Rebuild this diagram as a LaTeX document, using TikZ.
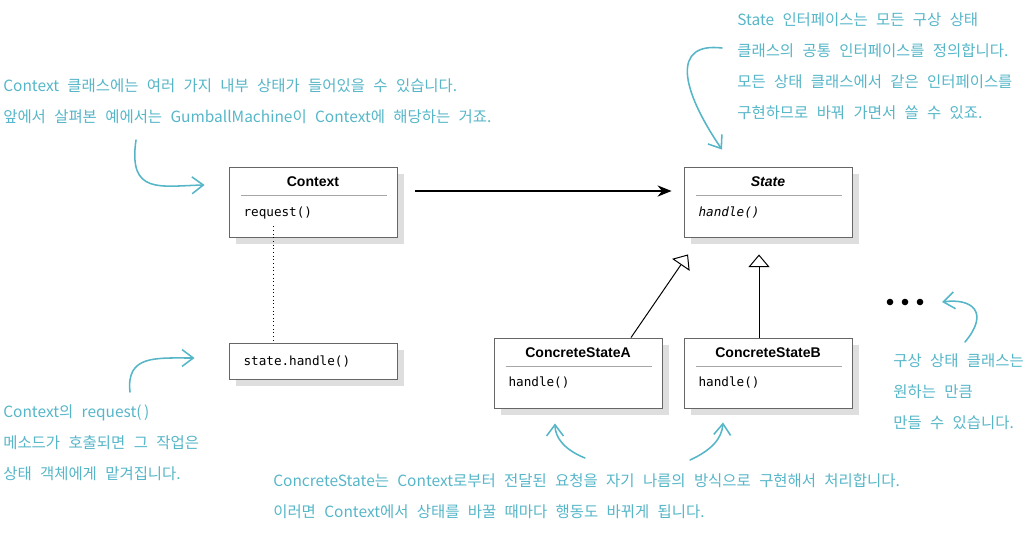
\documentclass[tikz,border=0pt]{standalone}
\usepackage{fontspec}
\setmainfont{Liberation Sans}
\setmonofont{DejaVu Sans Mono}[ItalicFont={DejaVu Sans Mono Oblique}]
\newfontfamily\hand{Noto Sans CJK KR}[WordSpace=2.4]
\usepackage{xcolor}
\usetikzlibrary{positioning, calc, shadows, arrows.meta}

\definecolor{noteblue}{RGB}{86,182,200}

\tikzset{
  umlbox/.style={draw=black!60, fill=white, line width=0.6pt, minimum width=4.2cm, minimum height=1.75cm,
    drop shadow={shadow xshift=0.17cm, shadow yshift=-0.17cm, fill=black!13, opacity=1}},
  umltitle/.style={font=\fontsize{10}{12}\selectfont\bfseries},
  umlop/.style={font=\ttfamily\fontsize{9}{11}\selectfont, anchor=west},
  umlsep/.style={draw=black!35, line width=0.5pt},
  note/.style={font=\hand\fontsize{11}{22}\selectfont, text=noteblue, align=left, anchor=west, inner sep=0pt},
  notearrow/.style={draw=noteblue, line width=1.1pt, line cap=round, -{Straight Barb[length=8pt, width=12pt]}},
  inherit/.style={draw=black, line width=0.7pt, -{Triangle[open, length=9pt, width=15pt, fill=white]}},
}

\begin{document}
\begin{tikzpicture}[x=0.025cm, y=0.025cm]
    \useasboundingbox (0,0) rectangle (1036,-534);

    \node[umlbox] (ctx) at (313,-202) {};
    \node[umltitle] (ctxname) at ($(ctx.north)+(0,-15)$) {Context};
    \draw[umlsep] ($(ctx.north west)+(12,-29)$) -- ($(ctx.north east)+(-10,-29)$);
    \node[umlop] (ctxop) at ($(ctx.north west)+(10,-46)$) {request()};

    \node[umlbox] (state) at (768,-202) {};
    \node[umltitle, font=\fontsize{10}{12}\selectfont\bfseries\itshape] (statename) at ($(state.north)+(0,-15)$) {State};
    \draw[umlsep] ($(state.north west)+(12,-29)$) -- ($(state.north east)+(-10,-29)$);
    \node[umlop, font=\ttfamily\itshape\fontsize{9}{11}\selectfont] (stateop) at ($(state.north west)+(10,-46)$) {handle()};

    \node[umlbox, minimum height=0.9cm] (call) at (313,-361) {};
    \node[umlop] (callop) at ($(call.west)+(10,0)$) {state.handle()};

    \node[umlbox] (csA) at (578,-373) {};
    \node[umltitle] (csAname) at ($(csA.north)+(0,-15)$) {ConcreteStateA};
    \draw[umlsep] ($(csA.north west)+(12,-29)$) -- ($(csA.north east)+(-10,-29)$);
    \node[umlop] (csAop) at ($(csA.north west)+(10,-45)$) {handle()};

    \node[umlbox] (csB) at (768,-373) {};
    \node[umltitle] (csBname) at ($(csB.north)+(0,-15)$) {ConcreteStateB};
    \draw[umlsep] ($(csB.north west)+(12,-29)$) -- ($(csB.north east)+(-10,-29)$);
    \node[umlop] (csBop) at ($(csB.north west)+(10,-45)$) {handle()};

    \draw[dotted, semithick] ($(ctx.south west)+(45,11)$) -- ($(call.north west)+(45,0)$);
    \draw[line width=0.9pt, -{Stealth[length=10pt, width=8pt]}] ($(ctx.east)+(18,11)$) -- ($(state.west)+(-12,11)$);
    \draw[inherit] ($(csA.north)+(53,0)$) -- ($(state.south)+(-80,-17)$);
    \draw[inherit] ($(csB.north)+(-9,0)$) -- ($(state.south)+(-9,-17)$);

    \coordinate (more) at (905,-302);
    \foreach \dx in {-15,0,15}
        \fill ($(more)+(\dx,0)$) circle (3.3);

    \node[note] (ctxnote) at (3,-101) {Context 클래스에는 여러 가지 내부 상태가 들어있을 수 있습니다.\\앞에서 살펴본 예에서는 GumballMachine이 Context에 해당하는 거죠.};
    \node[note] (statenote) at (737,-66) {State 인터페이스는 모든 구상 상태\\클래스의 공통 인터페이스를 정의합니다.\\모든 상태 클래스에서 같은 인터페이스를\\구현하므로 바꿔 가면서 쓸 수 있죠.};
    \node[note] (callnote) at (3,-443) {Context의 request(\,)\\메소드가 호출되면 그 작업은\\상태 객체에게 맡겨집니다.};
    \node[note] (csnote) at (273,-496) {ConcreteState는 Context로부터 전달된 요청을 자기 나름의 방식으로 구현해서 처리합니다.\\이러면 Context에서 상태를 바꿀 때마다 행동도 바뀌게 됩니다.};
    \node[note] (morenote) at (893,-392) {구상 상태 클래스는\\원하는 만큼\\만들 수 있습니다.};

    \coordinate (n1) at (136,-140);
    \coordinate (n2) at (722,-48);
    \coordinate (n3) at (130,-392);
    \coordinate (n4) at (585,-458);
    \coordinate (n5) at (690,-460);
    \coordinate (n6) at (965,-342);
    \draw[notearrow] (n1) .. controls (128,-195) and (160,-186) .. ($(ctx.west)+(-24,17)$);
    \draw[notearrow] (n2) .. controls (672,-42) and (680,-88) .. ($(state.north)+(-46,17)$);
    \draw[notearrow] (n3) .. controls (126,-355) and (155,-358) .. ($(call.west)+(-34,3)$);
    \draw[notearrow] (n4) .. controls (565,-450) and (555,-438) .. ($(csA.south)+(-23,-15)$);
    \draw[notearrow] (n5) .. controls (712,-450) and (722,-438) .. ($(csB.south)+(-45,-14)$);
    \draw[notearrow] (n6) .. controls (990,-312) and (972,-298) .. ($(more)+(37,0)$);
\end{tikzpicture}
\end{document}
